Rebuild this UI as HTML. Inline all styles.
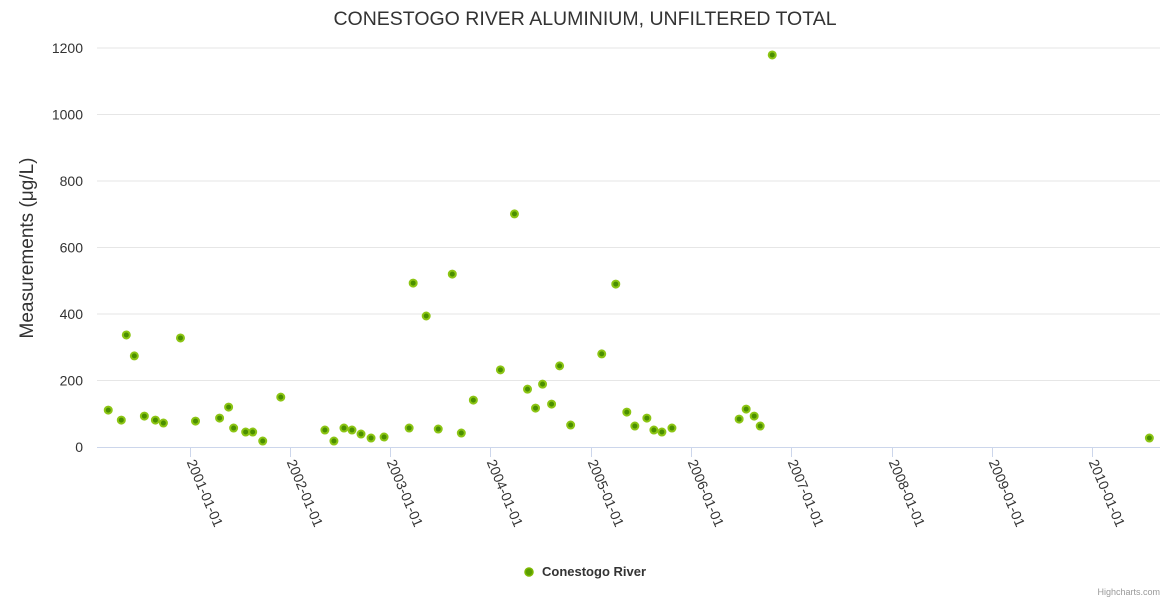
<!DOCTYPE html>
<html><head><meta charset="utf-8"><style>
body{margin:0;background:#fff;font-family:"Liberation Sans",sans-serif}
svg text{font-family:"Liberation Sans",sans-serif}
</style></head><body>
<svg id="c" width="1170" height="600">
<text x="585" y="25" text-anchor="middle" font-size="19.5" fill="#333">CONESTOGO RIVER ALUMINIUM, UNFILTERED TOTAL</text>
<text transform="translate(33,248) rotate(-90)" text-anchor="middle" font-size="19" fill="#333">Measurements (μg/L)</text>
<g><circle cx="529" cy="572" r="4" fill="#5a9e00" stroke="#7cb800" stroke-width="1.5"/><text x="542" y="576" font-size="13" font-weight="bold" fill="#333">Conestogo River</text></g>
<text x="1160" y="595" text-anchor="end" font-size="9" fill="#999">Highcharts.com</text>
</svg>
<script>
const yTicks=[0,200,400,600,800,1000,1200];
const xTickYears=[2001,2002,2003,2004,2005,2006,2007,2008,2009,2010];
const xTickLabels=["2001-01-01","2002-01-01","2003-01-01","2004-01-01","2005-01-01","2006-01-01","2007-01-01","2008-01-01","2009-01-01","2010-01-01"];
const dates=[2000.19,2000.32,2000.37,2000.45,2000.55,2000.66,2000.74,2000.91,2001.06,2001.30,2001.39,2001.44,2001.56,2001.63,2001.73,2001.91,2002.35,2002.44,2002.54,2002.62,2002.71,2002.81,2002.94,2003.19,2003.23,2003.36,2003.48,2003.62,2003.71,2003.83,2004.10,2004.24,2004.37,2004.45,2004.52,2004.61,2004.69,2004.80,2005.11,2005.25,2005.36,2005.44,2005.56,2005.63,2005.71,2005.81,2006.48,2006.55,2006.63,2006.69,2006.81,2010.57];
const values=[111,81,337,274,93,81,72,328,78,87,120,57,45,45,18,150,51,18,57,51,39,27,30,57,493,394,54,520,42,141,232,701,174,117,189,129,244,66,280,490,105,63,87,51,45,57,84,114,93,63,1179,27];
const ns="http://www.w3.org/2000/svg",svg=document.getElementById('c');
const L=97,R=1160;
const X=t=>189.5+(t-2001)*100.3;
const Y=v=>447-v*(399/1200);
function mk(tag,a){const e=document.createElementNS(ns,tag);for(const k in a)e.setAttribute(k,a[k]);svg.appendChild(e);return e;}
yTicks.forEach(v=>{
 if(v>0){const g=mk('line',{x1:L,x2:R,y1:Y(v),y2:Y(v),stroke:'#e6e6e6'});
 
 }
 const t=mk('text',{x:83,y:Y(v)+5,'text-anchor':'end','font-size':14,fill:'#333'});t.textContent=v;
 
 
});
const ax=mk('line',{x1:L,x2:R,y1:447.5,y2:447.5,stroke:'#ccd6eb'});


xTickYears.forEach((yr,i)=>{
 const x=Math.round(X(yr))+0.5;
 const tk=mk('line',{x1:x,x2:x,y1:447,y2:457,stroke:'#ccd6eb'});
 
 
 const t=mk('text',{transform:`translate(${x-4},${462}) rotate(67)`,'font-size':14,fill:'#333'});
 t.textContent=xTickLabels[i];
 
 
});
dates.forEach((d,i)=>{
 const c=mk('circle',{cx:X(d),cy:Y(values[i]),r:3.5,fill:'#4a8f00',stroke:'#8cc514','stroke-width':2});
 
 
});
</script>
</body></html>
